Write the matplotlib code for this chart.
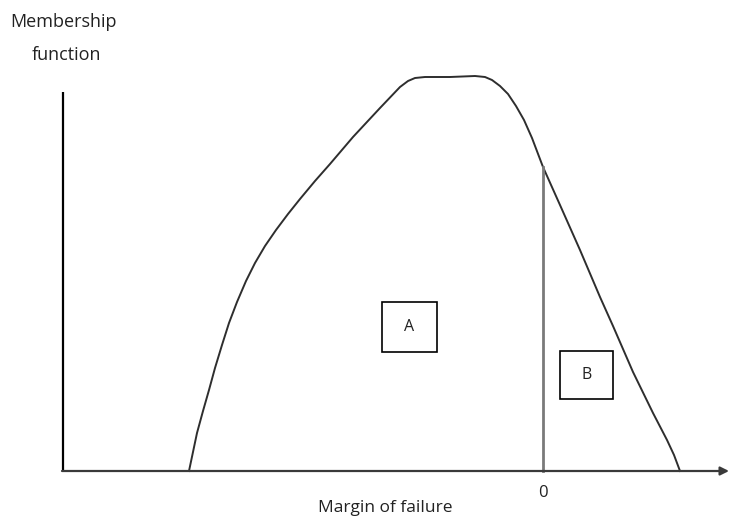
import matplotlib
matplotlib.use("Agg")
import matplotlib.pyplot as plt
from matplotlib.patches import Rectangle

# curve (pixel space, y grows downwards)
curve_x = [189, 193, 197, 203, 209, 215, 222, 229, 237, 246, 255, 265, 276, 288, 300, 315,
           330, 353, 380, 400, 408, 415, 425, 450, 475, 485, 492, 500, 508, 516, 524, 532,
           543, 560, 580, 600, 613, 633, 653, 667, 674, 680]
curve_y = [471, 452, 433, 411, 390, 368, 345, 323, 302, 281, 263, 246, 230, 214, 199, 181,
           164, 137, 108, 87, 81, 78, 77, 77, 76, 77, 80, 86, 94, 106, 120, 138,
           167, 205, 250, 297, 326, 372, 413, 440, 455, 471]

zero_x = 543
zero_top = 167
region_labels = ["A", "B"]
region_boxes = [(382, 302, 55, 50), (560, 351, 53, 48)]

font = ["Open Sans", "DejaVu Sans"]

fig = plt.figure(figsize=(7.33, 5.21), dpi=100)
ax = fig.add_axes([0, 0, 1, 1])
ax.set_xlim(0, 733)
ax.set_ylim(521, 0)
ax.axis("off")

# axes
ax.plot([63, 63], [92, 471], color="black", lw=1.6, solid_capstyle="butt")
ax.annotate("", xy=(729, 471), xytext=(62, 471),
            arrowprops=dict(arrowstyle="-|>,head_length=0.5,head_width=0.25",
                            color="#3a3a3a", lw=1.6, shrinkA=0, shrinkB=0))

# membership curve
ax.plot(curve_x, curve_y, color="#2e2e2e", lw=1.4, solid_joinstyle="round")

# zero line
ax.plot([zero_x, zero_x], [zero_top, 471], color="#7a7a7a", lw=2.0)

# boxed labels
for lab, (bx, by, bw, bh) in zip(region_labels, region_boxes):
    ax.add_patch(Rectangle((bx, by), bw, bh, fc="white", ec="black", lw=1.2))
    ax.text(bx + bw / 2, by + bh / 2, lab, ha="center", va="center", fontsize=11.5,
            family=font, color="#222222")

ax.text(64, 22, "Membership", ha="center", va="center", fontsize=13, family=font, color="#222222")
ax.text(66, 55, "function", ha="center", va="center", fontsize=13, family=font, color="#222222")
ax.text(385, 508, "Margin of failure", ha="center", va="center", fontsize=12.5, family=font, color="#222222")
ax.text(zero_x, 493, "0", ha="center", va="center", fontsize=12, family=font, color="#222222")

fig.savefig("out.png", dpi=100)
